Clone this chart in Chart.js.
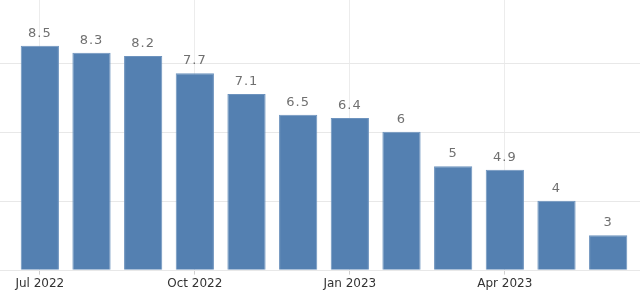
<!DOCTYPE html>
<html>
<head>
<meta charset="utf-8">
<script src="https://cdn.jsdelivr.net/npm/chart.js@4"></script>
<style>
  html, body { margin: 0; padding: 0; background: #fff; }
  #wrap { width: 640px; height: 298px; }
</style>
</head>
<body>
<div id="wrap"><canvas id="grafico"></canvas></div>
<script>
// dados
const meses = ['Jul 2022', 'Aug 2022', 'Sep 2022', 'Oct 2022', 'Nov 2022', 'Dec 2022',
               'Jan 2023', 'Feb 2023', 'Mar 2023', 'Apr 2023', 'May 2023', 'Jun 2023'];
const valores = [8.5, 8.3, 8.2, 7.7, 7.1, 6.5, 6.4, 6, 5, 4.9, 4, 3];
const linhasGrade = [2, 4, 6, 8];

// grade horizontal ocupando toda a largura
const gradeCheia = {
  id: 'gradeCheia',
  beforeDatasetsDraw(chart) {
    const ctx = chart.ctx;
    const y = chart.scales.y;
    ctx.save();
    ctx.strokeStyle = '#e8e8e8';
    ctx.lineWidth = 1;
    linhasGrade.forEach(v => {
      const py = Math.round(y.getPixelForValue(v)) + 0.5;
      ctx.beginPath();
      ctx.moveTo(0, py);
      ctx.lineTo(chart.width, py);
      ctx.stroke();
    });
    ctx.restore();
  }
};

// rótulos acima das barras
const rotulos = {
  id: 'rotulos',
  afterDatasetsDraw(chart) {
    const ctx = chart.ctx;
    const meta = chart.getDatasetMeta(0);
    ctx.save();
    ctx.fillStyle = '#707070';
    ctx.font = '13px "DejaVu Sans"';
    ctx.textAlign = 'center';
    ctx.textBaseline = 'bottom';
    if ('letterSpacing' in ctx) ctx.letterSpacing = '1px';
    meta.data.forEach((bar, i) => {
      ctx.fillText(String(valores[i]), bar.x, bar.y - 6);
    });
    ctx.restore();
  }
};

new Chart(document.getElementById('grafico'), {
  type: 'bar',
  data: {
    labels: meses,
    datasets: [{
      data: valores,
      backgroundColor: '#5480b1',
      borderColor: '#6d93be',
      borderWidth: 1,
      categoryPercentage: 0.74,
      barPercentage: 1
    }]
  },
  options: {
    responsive: true,
    maintainAspectRatio: false,
    animation: false,
    layout: { padding: { left: 14, right: 6, top: 0, bottom: 5 } },
    plugins: {
      legend: { display: false },
      tooltip: { enabled: false }
    },
    scales: {
      x: {
        offset: true,
        border: { display: false },
        grid: {
          offset: false,
          color: ctx => (ctx.index % 3 === 0 ? '#ececec' : 'rgba(0,0,0,0)'),
          tickColor: ctx => (ctx.index % 3 === 0 ? '#d0d0d0' : 'rgba(0,0,0,0)'),
          tickLength: 5
        },
        ticks: {
          autoSkip: false,
          maxRotation: 0,
          color: '#333',
          font: { family: 'DejaVu Sans', size: 12 },
          padding: 2,
          callback: (v, i) => (i % 3 === 0 ? meses[i] : '')
        }
      },
      y: {
        min: 2,
        max: 9.83,
        display: false
      }
    }
  },
  plugins: [gradeCheia, rotulos]
});
</script>
</body>
</html>
